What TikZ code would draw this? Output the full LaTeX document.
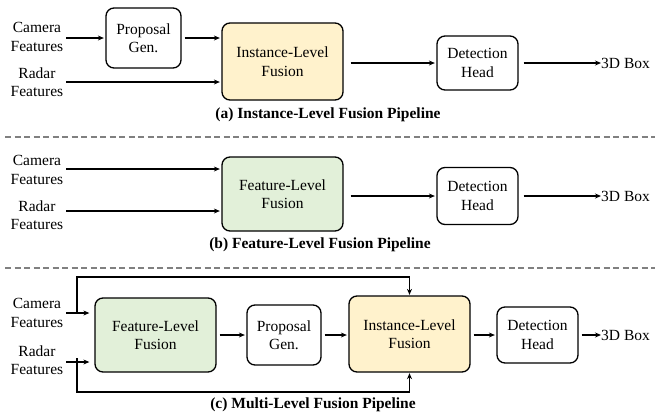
\documentclass[tikz,border=0pt]{standalone}
\usepackage{fontspec}
\setmainfont{Liberation Serif}
\usetikzlibrary{arrows.meta,positioning}
\definecolor{instfill}{HTML}{FFF2CC}
\definecolor{featfill}{HTML}{E2F0D9}
\begin{document}
\begin{tikzpicture}[x=1pt,y=-1pt,
  every node/.style={font=\rmfamily\fontsize{15.5}{18.5}\selectfont},
  blk/.style={draw,line width=1.3pt,rounded corners=8pt,align=center,inner sep=0pt},
  lbl/.style={align=center,inner sep=2pt},
  captxt/.style={font=\rmfamily\fontsize{15.5}{18.5}\selectfont\bfseries,inner sep=0pt},
  arr/.style={line width=1.4pt,-{Stealth[length=6pt,width=5pt]},shorten >=1.5pt,shorten <=3pt},
  fb/.style={line width=1.4pt},
  sep/.style={gray,line width=1.5pt,dash pattern=on 6pt off 3.5pt}]
\useasboundingbox (0,0) rectangle (659,413);
% ---------- (a)
\node[lbl] (cam1) at (37,37) {Camera\\Features};
\node[lbl] (rad1) at (37,82) {Radar\\Features};
\node[blk,minimum width=75,minimum height=60] (prop1) at (143.5,38) {Proposal\\Gen.};
\node[blk,fill=instfill,minimum width=121,minimum height=77] (ifus1) at (282.5,61.5) {Instance-Level\\Fusion};
\node[blk,minimum width=81,minimum height=54] (det1) at (477.5,63) {Detection\\Head};
\node[anchor=west,inner sep=0pt] (box1) at (601,63) {3D Box};
\node[captxt] (cap1) at (328,115) {(a) Instance-Level Fusion Pipeline};
\draw[arr,shorten <=1pt] (cam1.east |- prop1.west) -- (prop1.west);
\draw[arr] (prop1.east) -- (prop1.east -| ifus1.west);
\draw[arr,shorten <=1pt] (rad1.east) -- (rad1.east -| ifus1.west);
\draw[arr,shorten <=7pt] (det1.west -| ifus1.east) -- (det1.west);
\draw[arr,shorten <=5pt,shorten >=0pt] (det1.east) -- (box1.west);
\draw[sep] (5,137) -- (655,137);
% ---------- (b)
\node[lbl] (cam2) at (37,170) {Camera\\Features};
\node[lbl] (rad2) at (37,215) {Radar\\Features};
\node[blk,fill=featfill,minimum width=121,minimum height=74] (ffus2) at (282.5,194) {Feature-Level\\Fusion};
\node[blk,minimum width=81,minimum height=57] (det2) at (477.5,196) {Detection\\Head};
\node[anchor=west,inner sep=0pt] (box2) at (601,196) {3D Box};
\node[captxt] (cap2) at (320,245) {(b) Feature-Level Fusion Pipeline};
\draw[arr,shorten <=1pt] ([yshift=1pt]cam2.east) -- ([yshift=1pt]cam2.east -| ffus2.west);
\draw[arr,shorten <=1pt] ([yshift=4pt]rad2.east) -- ([yshift=4pt]rad2.east -| ffus2.west);
\draw[arr,shorten <=7pt] (det2.west -| ffus2.east) -- (det2.west);
\draw[arr,shorten <=5pt,shorten >=0pt] (det2.east) -- (det2.east -| box2.west);
\draw[sep] (5,268) -- (655,268);
% ---------- (c)
\node[lbl] (cam3) at (37,313) {Camera\\Features};
\node[lbl] (rad3) at (37,360) {Radar\\Features};
\node[blk,fill=featfill,minimum width=121,minimum height=74] (ffus3) at (155.5,335) {Feature-Level\\Fusion};
\node[blk,minimum width=74,minimum height=60] (prop3) at (284,335) {Proposal\\Gen.};
\node[blk,fill=instfill,minimum width=121,minimum height=76] (ifus3) at (409.5,334) {Instance-Level\\Fusion};
\node[blk,minimum width=81,minimum height=56] (det3) at (537.5,335) {Detection\\Head};
\node[anchor=west,inner sep=0pt] (box3) at (601,335) {3D Box};
\node[captxt] (cap3) at (313,405) {(c) Multi-Level Fusion Pipeline};
\coordinate (j1) at (77,313);
\coordinate (j2) at (77,358);
\coordinate (t1) at (77,277);
\coordinate (b1) at (77,392);
\draw[arr,shorten <=1pt,shorten >=5pt] (cam3.east) -- (cam3.east -| ffus3.west);
\draw[arr,shorten <=1pt,shorten >=5pt] ([yshift=-2pt]rad3.east) -- ([yshift=-2pt]rad3.east -| ffus3.west);
\draw[fb,-{Stealth[length=6pt,width=5pt]},shorten >=0.5pt] (j1) -- (t1) -| (ifus3.north);
\draw[fb,-{Stealth[length=6pt,width=5pt]},shorten >=0.5pt] (j2) -- (b1) -| (ifus3.south);
\draw[arr] (ffus3.east) -- (prop3.west);
\draw[arr] (prop3.east) -- (prop3.east -| ifus3.west);
\draw[arr] (det3.west -| ifus3.east) -- (det3.west);
\draw[arr,shorten >=0pt] (det3.east) -- (box3.west);
\end{tikzpicture}
\end{document}
